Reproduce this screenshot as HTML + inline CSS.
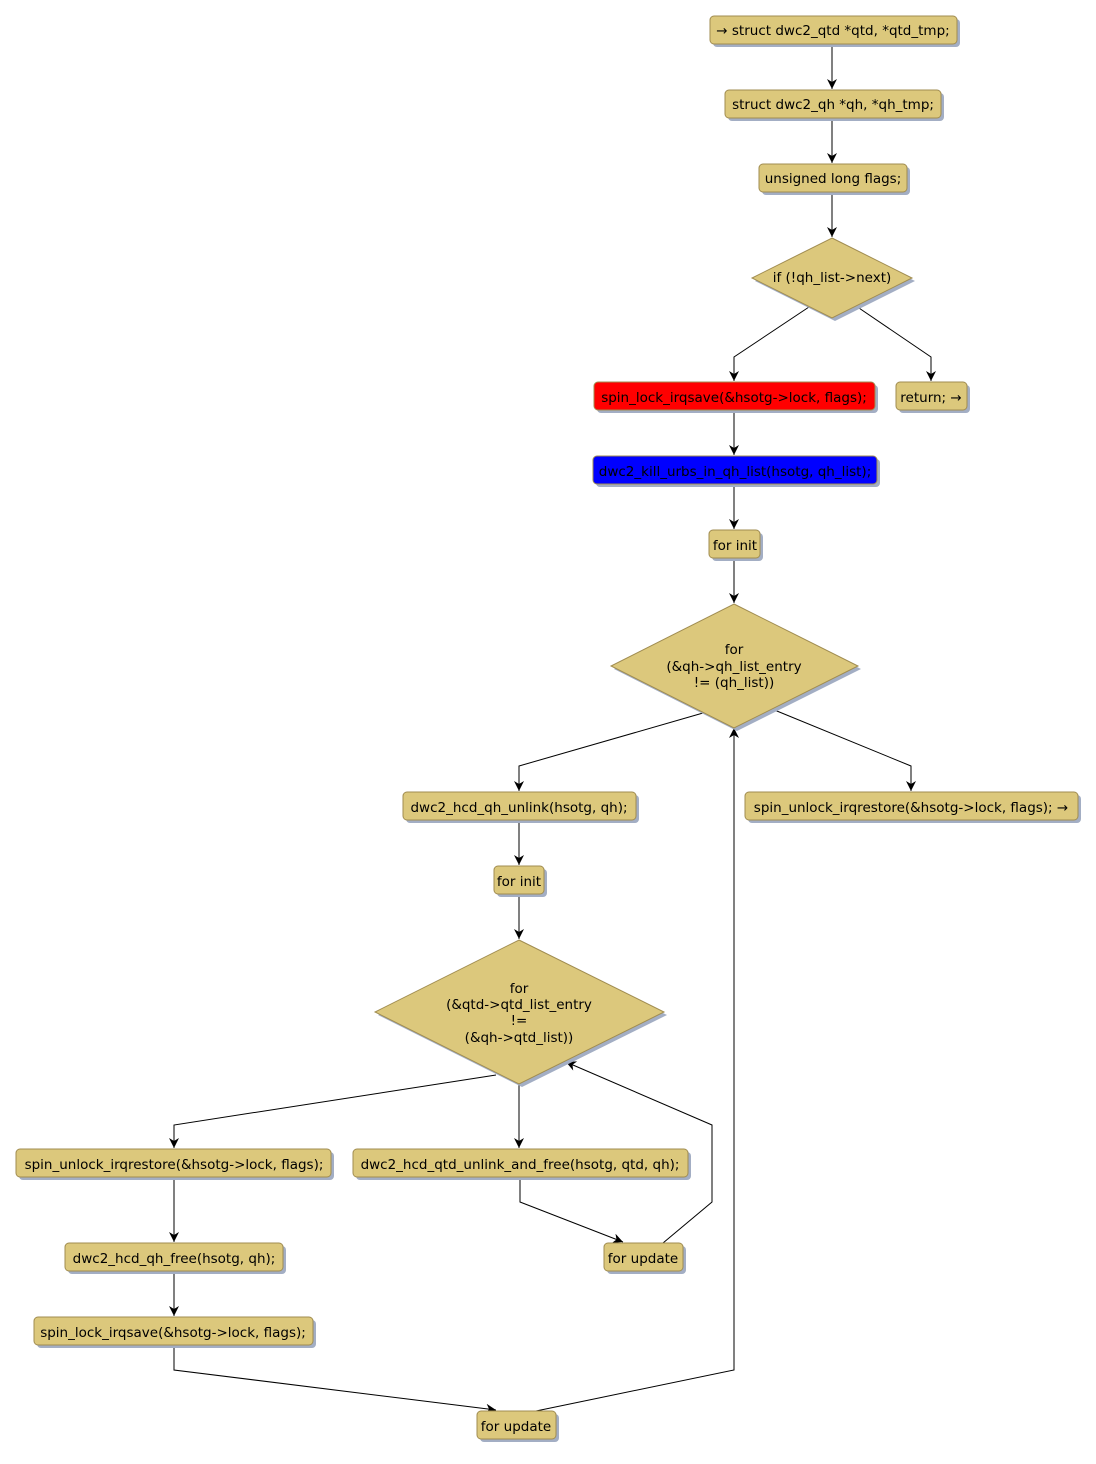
<!DOCTYPE html>
<html><head><meta charset="utf-8"><style>
html,body{margin:0;padding:0;background:#fff;}
svg text{font-family:"DejaVu Sans","Liberation Sans",sans-serif;font-size:13.5px;fill:#000;text-anchor:middle;}
.b{fill:#dcc87c;stroke:#a08c50;stroke-width:1;}
.s{fill:#a3aec4;}
.e{fill:none;stroke:#000;stroke-width:1;}
</style></head><body>
<svg width="1096" height="1459" viewBox="0 0 1096 1459" xmlns="http://www.w3.org/2000/svg">
<defs><marker id="a" markerWidth="12" markerHeight="12" refX="10" refY="5" orient="auto" markerUnits="userSpaceOnUse"><path d="M0,0 L10,5 L0,10 L3,5 Z" fill="#000"/></marker></defs>
<g id="edges" class="e" marker-end="url(#a)">
<path d="M832,44 V89"/>
<path d="M832,118 V163"/>
<path d="M832,192 V237"/>
<path d="M809,307 L734,357 V381"/>
<path d="M856,306 L931,357 V381"/>
<path d="M734,410 V455"/>
<path d="M734,484 V529"/>
<path d="M734,558 V603"/>
<path d="M703,713 L519,766 V791"/>
<path d="M772,709 L911,766 V791"/>
<path d="M519,820 V865"/>
<path d="M519,894 V939"/>
<path d="M496,1075 L174,1125 V1148"/>
<path d="M519,1084 V1148"/>
<path d="M520,1177 V1202 L623,1242"/>
<path d="M663,1243 L712,1202 V1125 L566,1062"/>
<path d="M174,1177 V1242"/>
<path d="M174,1271 V1316"/>
<path d="M174,1345 V1370 L496,1410"/>
<path d="M536,1411 L734,1370 V728"/>
</g>
<g>
<rect class="s" x="713" y="19" width="247" height="28" rx="4"/><rect class="b" x="710" y="16" width="247" height="28" rx="4"/><text x="833" y="35">→ struct dwc2_qtd *qtd, *qtd_tmp;</text>
<rect class="s" x="728" y="93" width="216" height="28" rx="4"/><rect class="b" x="725" y="90" width="216" height="28" rx="4"/><text x="833" y="109">struct dwc2_qh *qh, *qh_tmp;</text>
<rect class="s" x="762" y="167" width="148" height="28" rx="4"/><rect class="b" x="759" y="164" width="148" height="28" rx="4"/><text x="833" y="183">unsigned long flags;</text>
<polygon class="s" points="835,241 915,281 835,321 755,281"/><polygon class="b" points="832,238 912,278 832,318 752,278"/><text x="832" y="282">if (!qh_list-&gt;next)</text>
<rect class="s" x="597" y="385" width="281" height="28" rx="4"/><rect x="594" y="382" width="281" height="28" rx="4" fill="#ff0000" stroke="#a08c50"/><text x="734" y="402">spin_lock_irqsave(&amp;hsotg-&gt;lock, flags);</text>
<rect class="s" x="899" y="385" width="71" height="28" rx="4"/><rect class="b" x="896" y="382" width="71" height="28" rx="4"/><text x="931" y="402">return; →</text>
<rect class="s" x="596" y="459" width="284" height="28" rx="4"/><rect x="593" y="456" width="284" height="28" rx="4" fill="#0000ff" stroke="#a08c50"/><text x="735" y="476">dwc2_kill_urbs_in_qh_list(hsotg, qh_list);</text>
<rect class="s" x="712" y="533" width="51" height="28" rx="4"/><rect class="b" x="709" y="530" width="51" height="28" rx="4"/><text x="735" y="550">for init</text>
<polygon class="s" points="737,607 861,669 737,731 614,669"/><polygon class="b" points="734,604 858,666 734,728 611,666"/><text x="734" y="654">for</text><text x="734" y="671">(&amp;qh-&gt;qh_list_entry</text><text x="734" y="687">!= (qh_list))</text>
<rect class="s" x="406" y="795" width="233" height="28" rx="4"/><rect class="b" x="403" y="792" width="233" height="28" rx="4"/><text x="519" y="812">dwc2_hcd_qh_unlink(hsotg, qh);</text>
<rect class="s" x="748" y="795" width="333" height="28" rx="4"/><rect class="b" x="745" y="792" width="333" height="28" rx="4"/><text x="911" y="812">spin_unlock_irqrestore(&amp;hsotg-&gt;lock, flags); →</text>
<rect class="s" x="497" y="869" width="50" height="28" rx="4"/><rect class="b" x="494" y="866" width="50" height="28" rx="4"/><text x="519" y="886">for init</text>
<polygon class="s" points="522,943 667,1015 522,1087 378,1015"/><polygon class="b" points="519,940 664,1012 519,1084 375,1012"/><text x="519" y="993">for</text><text x="519" y="1009">(&amp;qtd-&gt;qtd_list_entry</text><text x="519" y="1025">!=</text><text x="519" y="1042">(&amp;qh-&gt;qtd_list))</text>
<rect class="s" x="19" y="1152" width="315" height="28" rx="4"/><rect class="b" x="16" y="1149" width="315" height="28" rx="4"/><text x="174" y="1169">spin_unlock_irqrestore(&amp;hsotg-&gt;lock, flags);</text>
<rect class="s" x="356" y="1152" width="335" height="28" rx="4"/><rect class="b" x="353" y="1149" width="335" height="28" rx="4"/><text x="520" y="1169">dwc2_hcd_qtd_unlink_and_free(hsotg, qtd, qh);</text>
<rect class="s" x="68" y="1246" width="218" height="28" rx="4"/><rect class="b" x="65" y="1243" width="218" height="28" rx="4"/><text x="174" y="1263">dwc2_hcd_qh_free(hsotg, qh);</text>
<rect class="s" x="607" y="1246" width="79" height="28" rx="4"/><rect class="b" x="604" y="1243" width="79" height="28" rx="4"/><text x="643" y="1263">for update</text>
<rect class="s" x="37" y="1320" width="279" height="28" rx="4"/><rect class="b" x="34" y="1317" width="279" height="28" rx="4"/><text x="173" y="1337">spin_lock_irqsave(&amp;hsotg-&gt;lock, flags);</text>
<rect class="s" x="480" y="1414" width="79" height="28" rx="4"/><rect class="b" x="477" y="1411" width="79" height="28" rx="4"/><text x="516" y="1431">for update</text>
</g>
</svg>
</body></html>
